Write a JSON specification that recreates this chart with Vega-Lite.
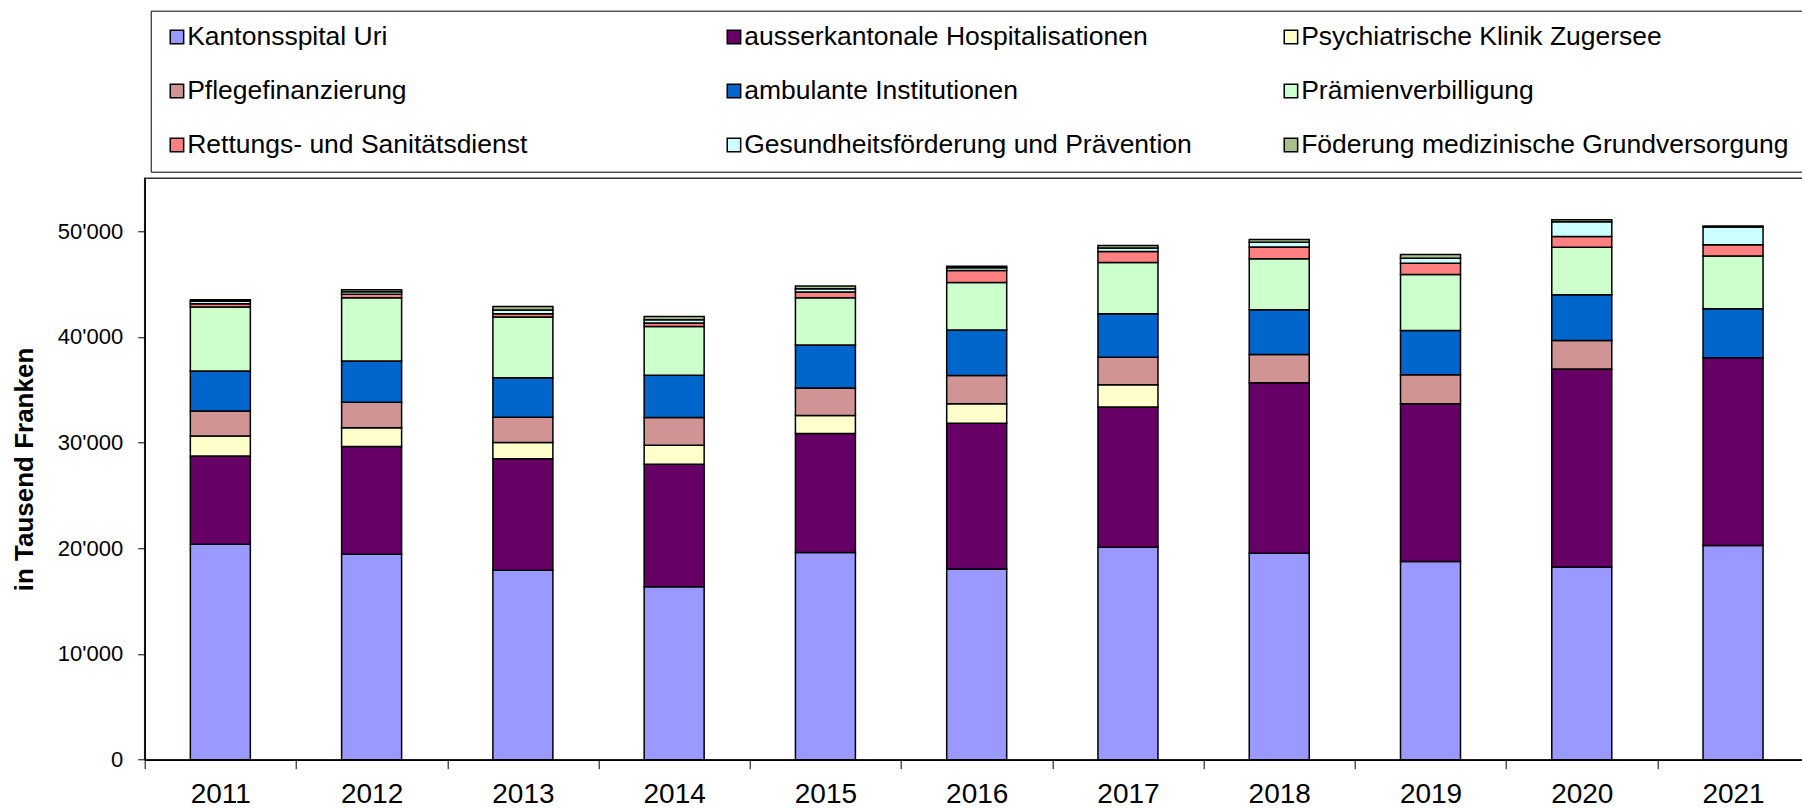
{
  "$schema": "https://vega.github.io/schema/vega-lite/v6.json",
  "autosize": "none",
  "width": 1664,
  "height": 581.4,
  "padding": {"left": 144.7, "top": 178.3, "right": 0, "bottom": 50},
  "background": "white",
  "data": {
    "values": [
      {"Jahr": "2011", "Rang": 1, "Bereich": "Kantonsspital Uri", "Wert": 20380},
      {"Jahr": "2011", "Rang": 2, "Bereich": "ausserkantonale Hospitalisationen", "Wert": 8360},
      {"Jahr": "2011", "Rang": 3, "Bereich": "Psychiatrische Klinik Zugersee", "Wert": 1890},
      {"Jahr": "2011", "Rang": 4, "Bereich": "Pflegefinanzierung", "Wert": 2360},
      {"Jahr": "2011", "Rang": 5, "Bereich": "ambulante Institutionen", "Wert": 3780},
      {"Jahr": "2011", "Rang": 6, "Bereich": "Prämienverbilligung", "Wert": 6050},
      {"Jahr": "2011", "Rang": 7, "Bereich": "Rettungs- und Sanitätsdienst", "Wert": 320},
      {"Jahr": "2011", "Rang": 8, "Bereich": "Gesundheitsförderung und Prävention", "Wert": 230},
      {"Jahr": "2011", "Rang": 9, "Bereich": "Föderung medizinische Grundversorgung", "Wert": 150},
      {"Jahr": "2012", "Rang": 1, "Bereich": "Kantonsspital Uri", "Wert": 19440},
      {"Jahr": "2012", "Rang": 2, "Bereich": "ausserkantonale Hospitalisationen", "Wert": 10180},
      {"Jahr": "2012", "Rang": 3, "Bereich": "Psychiatrische Klinik Zugersee", "Wert": 1770},
      {"Jahr": "2012", "Rang": 4, "Bereich": "Pflegefinanzierung", "Wert": 2420},
      {"Jahr": "2012", "Rang": 5, "Bereich": "ambulante Institutionen", "Wert": 3910},
      {"Jahr": "2012", "Rang": 6, "Bereich": "Prämienverbilligung", "Wert": 5980},
      {"Jahr": "2012", "Rang": 7, "Bereich": "Rettungs- und Sanitätsdienst", "Wert": 330},
      {"Jahr": "2012", "Rang": 8, "Bereich": "Gesundheitsförderung und Prävention", "Wert": 230},
      {"Jahr": "2012", "Rang": 9, "Bereich": "Föderung medizinische Grundversorgung", "Wert": 200},
      {"Jahr": "2013", "Rang": 1, "Bereich": "Kantonsspital Uri", "Wert": 17930},
      {"Jahr": "2013", "Rang": 2, "Bereich": "ausserkantonale Hospitalisationen", "Wert": 10530},
      {"Jahr": "2013", "Rang": 3, "Bereich": "Psychiatrische Klinik Zugersee", "Wert": 1540},
      {"Jahr": "2013", "Rang": 4, "Bereich": "Pflegefinanzierung", "Wert": 2390},
      {"Jahr": "2013", "Rang": 5, "Bereich": "ambulante Institutionen", "Wert": 3750},
      {"Jahr": "2013", "Rang": 6, "Bereich": "Prämienverbilligung", "Wert": 5730},
      {"Jahr": "2013", "Rang": 7, "Bereich": "Rettungs- und Sanitätsdienst", "Wert": 320},
      {"Jahr": "2013", "Rang": 8, "Bereich": "Gesundheitsförderung und Prävention", "Wert": 340},
      {"Jahr": "2013", "Rang": 9, "Bereich": "Föderung medizinische Grundversorgung", "Wert": 350},
      {"Jahr": "2014", "Rang": 1, "Bereich": "Kantonsspital Uri", "Wert": 16350},
      {"Jahr": "2014", "Rang": 2, "Bereich": "ausserkantonale Hospitalisationen", "Wert": 11600},
      {"Jahr": "2014", "Rang": 3, "Bereich": "Psychiatrische Klinik Zugersee", "Wert": 1800},
      {"Jahr": "2014", "Rang": 4, "Bereich": "Pflegefinanzierung", "Wert": 2610},
      {"Jahr": "2014", "Rang": 5, "Bereich": "ambulante Institutionen", "Wert": 4000},
      {"Jahr": "2014", "Rang": 6, "Bereich": "Prämienverbilligung", "Wert": 4630},
      {"Jahr": "2014", "Rang": 7, "Bereich": "Rettungs- und Sanitätsdienst", "Wert": 330},
      {"Jahr": "2014", "Rang": 8, "Bereich": "Gesundheitsförderung und Prävention", "Wert": 300},
      {"Jahr": "2014", "Rang": 9, "Bereich": "Föderung medizinische Grundversorgung", "Wert": 310},
      {"Jahr": "2015", "Rang": 1, "Bereich": "Kantonsspital Uri", "Wert": 19600},
      {"Jahr": "2015", "Rang": 2, "Bereich": "ausserkantonale Hospitalisationen", "Wert": 11250},
      {"Jahr": "2015", "Rang": 3, "Bereich": "Psychiatrische Klinik Zugersee", "Wert": 1700},
      {"Jahr": "2015", "Rang": 4, "Bereich": "Pflegefinanzierung", "Wert": 2610},
      {"Jahr": "2015", "Rang": 5, "Bereich": "ambulante Institutionen", "Wert": 4060},
      {"Jahr": "2015", "Rang": 6, "Bereich": "Prämienverbilligung", "Wert": 4480},
      {"Jahr": "2015", "Rang": 7, "Bereich": "Rettungs- und Sanitätsdienst", "Wert": 540},
      {"Jahr": "2015", "Rang": 8, "Bereich": "Gesundheitsförderung und Prävention", "Wert": 310},
      {"Jahr": "2015", "Rang": 9, "Bereich": "Föderung medizinische Grundversorgung", "Wert": 250},
      {"Jahr": "2016", "Rang": 1, "Bereich": "Kantonsspital Uri", "Wert": 18050},
      {"Jahr": "2016", "Rang": 2, "Bereich": "ausserkantonale Hospitalisationen", "Wert": 13770},
      {"Jahr": "2016", "Rang": 3, "Bereich": "Psychiatrische Klinik Zugersee", "Wert": 1860},
      {"Jahr": "2016", "Rang": 4, "Bereich": "Pflegefinanzierung", "Wert": 2670},
      {"Jahr": "2016", "Rang": 5, "Bereich": "ambulante Institutionen", "Wert": 4290},
      {"Jahr": "2016", "Rang": 6, "Bereich": "Prämienverbilligung", "Wert": 4500},
      {"Jahr": "2016", "Rang": 7, "Bereich": "Rettungs- und Sanitätsdienst", "Wert": 1130},
      {"Jahr": "2016", "Rang": 8, "Bereich": "Gesundheitsförderung und Prävention", "Wert": 270},
      {"Jahr": "2016", "Rang": 9, "Bereich": "Föderung medizinische Grundversorgung", "Wert": 150},
      {"Jahr": "2017", "Rang": 1, "Bereich": "Kantonsspital Uri", "Wert": 20100},
      {"Jahr": "2017", "Rang": 2, "Bereich": "ausserkantonale Hospitalisationen", "Wert": 13260},
      {"Jahr": "2017", "Rang": 3, "Bereich": "Psychiatrische Klinik Zugersee", "Wert": 2120},
      {"Jahr": "2017", "Rang": 4, "Bereich": "Pflegefinanzierung", "Wert": 2580},
      {"Jahr": "2017", "Rang": 5, "Bereich": "ambulante Institutionen", "Wert": 4130},
      {"Jahr": "2017", "Rang": 6, "Bereich": "Prämienverbilligung", "Wert": 4850},
      {"Jahr": "2017", "Rang": 7, "Bereich": "Rettungs- und Sanitätsdienst", "Wert": 1040},
      {"Jahr": "2017", "Rang": 8, "Bereich": "Gesundheitsförderung und Prävention", "Wert": 320},
      {"Jahr": "2017", "Rang": 9, "Bereich": "Föderung medizinische Grundversorgung", "Wert": 250},
      {"Jahr": "2018", "Rang": 1, "Bereich": "Kantonsspital Uri", "Wert": 19530},
      {"Jahr": "2018", "Rang": 2, "Bereich": "ausserkantonale Hospitalisationen", "Wert": 16130},
      {"Jahr": "2018", "Rang": 4, "Bereich": "Pflegefinanzierung", "Wert": 2680},
      {"Jahr": "2018", "Rang": 5, "Bereich": "ambulante Institutionen", "Wert": 4230},
      {"Jahr": "2018", "Rang": 6, "Bereich": "Prämienverbilligung", "Wert": 4820},
      {"Jahr": "2018", "Rang": 7, "Bereich": "Rettungs- und Sanitätsdienst", "Wert": 1100},
      {"Jahr": "2018", "Rang": 8, "Bereich": "Gesundheitsförderung und Prävention", "Wert": 460},
      {"Jahr": "2018", "Rang": 9, "Bereich": "Föderung medizinische Grundversorgung", "Wert": 260},
      {"Jahr": "2019", "Rang": 1, "Bereich": "Kantonsspital Uri", "Wert": 18750},
      {"Jahr": "2019", "Rang": 2, "Bereich": "ausserkantonale Hospitalisationen", "Wert": 14930},
      {"Jahr": "2019", "Rang": 4, "Bereich": "Pflegefinanzierung", "Wert": 2740},
      {"Jahr": "2019", "Rang": 5, "Bereich": "ambulante Institutionen", "Wert": 4190},
      {"Jahr": "2019", "Rang": 6, "Bereich": "Prämienverbilligung", "Wert": 5290},
      {"Jahr": "2019", "Rang": 7, "Bereich": "Rettungs- und Sanitätsdienst", "Wert": 1070},
      {"Jahr": "2019", "Rang": 8, "Bereich": "Gesundheitsförderung und Prävention", "Wert": 470},
      {"Jahr": "2019", "Rang": 9, "Bereich": "Föderung medizinische Grundversorgung", "Wert": 350},
      {"Jahr": "2020", "Rang": 1, "Bereich": "Kantonsspital Uri", "Wert": 18240},
      {"Jahr": "2020", "Rang": 2, "Bereich": "ausserkantonale Hospitalisationen", "Wert": 18710},
      {"Jahr": "2020", "Rang": 4, "Bereich": "Pflegefinanzierung", "Wert": 2710},
      {"Jahr": "2020", "Rang": 5, "Bereich": "ambulante Institutionen", "Wert": 4320},
      {"Jahr": "2020", "Rang": 6, "Bereich": "Prämienverbilligung", "Wert": 4500},
      {"Jahr": "2020", "Rang": 7, "Bereich": "Rettungs- und Sanitätsdienst", "Wert": 1010},
      {"Jahr": "2020", "Rang": 8, "Bereich": "Gesundheitsförderung und Prävention", "Wert": 1410},
      {"Jahr": "2020", "Rang": 9, "Bereich": "Föderung medizinische Grundversorgung", "Wert": 170},
      {"Jahr": "2021", "Rang": 1, "Bereich": "Kantonsspital Uri", "Wert": 20260},
      {"Jahr": "2021", "Rang": 2, "Bereich": "ausserkantonale Hospitalisationen", "Wert": 17770},
      {"Jahr": "2021", "Rang": 5, "Bereich": "ambulante Institutionen", "Wert": 4630},
      {"Jahr": "2021", "Rang": 6, "Bereich": "Prämienverbilligung", "Wert": 4980},
      {"Jahr": "2021", "Rang": 7, "Bereich": "Rettungs- und Sanitätsdienst", "Wert": 1070},
      {"Jahr": "2021", "Rang": 8, "Bereich": "Gesundheitsförderung und Prävention", "Wert": 1690},
      {"Jahr": "2021", "Rang": 9, "Bereich": "Föderung medizinische Grundversorgung", "Wert": 80}
    ]
  },
  "mark": {"type": "bar", "size": 60, "stroke": "#000", "strokeWidth": 1.5},
  "encoding": {
    "x": {
      "field": "Jahr", "type": "ordinal",
      "scale": {"paddingInner": 0, "paddingOuter": 0},
      "axis": {
        "title": null, "labelAngle": 0, "tickBand": "extent", "tickSize": 9,
        "labelPadding": 12, "labelFontSize": 28, "labelFont": "Liberation Sans",
        "labelColor": "#000", "domainColor": "#000", "domainWidth": 1.5,
        "tickColor": "#000", "tickWidth": 1
      }
    },
    "y": {
      "field": "Wert", "type": "quantitative", "stack": "zero",
      "scale": {"domain": [0, 55000], "nice": false},
      "axis": {
        "title": "in Tausend Franken", "values": [0, 10000, 20000, 30000, 40000, 50000],
        "labelExpr": "replace(format(datum.value, ','), ',', \"'\")",
        "grid": false, "tickSize": 7, "labelPadding": 15, "labelFontSize": 22,
        "labelFont": "Liberation Sans", "labelColor": "#000",
        "domainColor": "#000", "domainWidth": 1.5, "tickColor": "#000", "tickWidth": 1,
        "titleFont": "Liberation Sans", "titleFontSize": 26, "titleFontWeight": "bold",
        "titleColor": "#000", "titlePadding": 20
      }
    },
    "order": {"field": "Rang", "type": "quantitative", "sort": "ascending"},
    "color": {
      "field": "Bereich", "type": "nominal",
      "scale": {
        "domain": ["Kantonsspital Uri", "ausserkantonale Hospitalisationen", "Psychiatrische Klinik Zugersee", "Pflegefinanzierung", "ambulante Institutionen", "Prämienverbilligung", "Rettungs- und Sanitätsdienst", "Gesundheitsförderung und Prävention", "Föderung medizinische Grundversorgung"],
        "range": ["#9999FF", "#660066", "#FFFFCC", "#D09494", "#0066CC", "#CCFFCC", "#FF8080", "#CCFFFF", "#A8C08C"]
      },
      "legend": {
        "title": null, "orient": "none", "legendX": 6, "legendY": -167.6,
        "columns": 3, "direction": "horizontal", "gridAlign": "all",
        "padding": 13, "strokeColor": "#000", "fillColor": "#fff",
        "symbolType": "square", "symbolSize": 180, "symbolStrokeColor": "#000",
        "symbolStrokeWidth": 1.5,
        "labelFont": "Liberation Sans", "labelFontSize": 26.5, "labelColor": "#000",
        "labelLimit": 700, "labelOffset": -3, "rowPadding": 27, "columnPadding": 45
      }
    }
  },
  "config": {
    "view": {"stroke": "#333", "strokeWidth": 1.5}
  }
}
